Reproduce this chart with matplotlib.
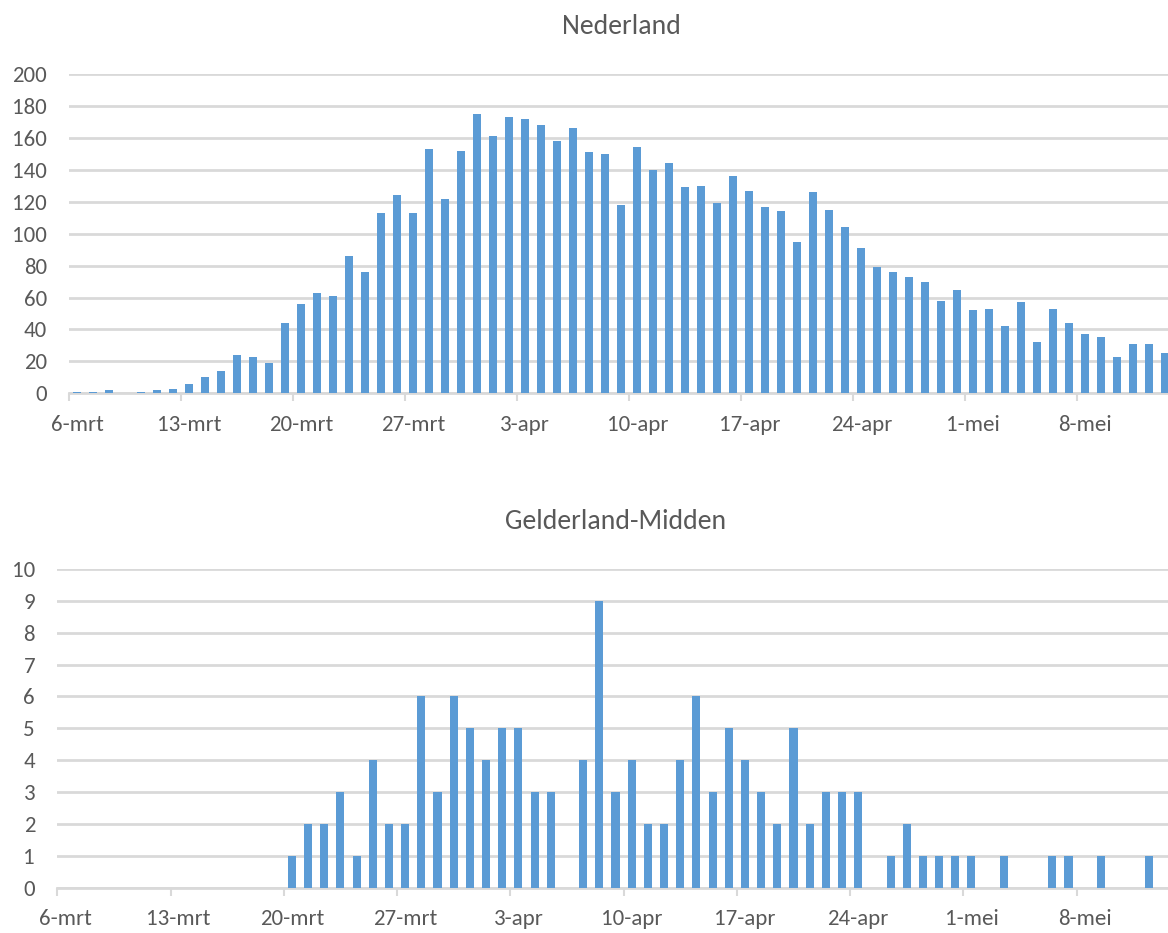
import matplotlib
matplotlib.use('Agg')
import matplotlib.pyplot as plt
import numpy as np
import pandas as pd

# dagelijkse aantallen, 6 maart t/m 13 mei
dates = pd.date_range('2020-03-06', '2020-05-13')

nederland = [1, 1, 2, 0, 1, 2, 3,
             6, 10, 14, 24, 23, 19, 44,
             56, 63, 61, 86, 76, 113, 124,
             113, 153, 122, 152, 175, 161, 173,
             172, 168, 158, 166, 151, 150, 118,
             154, 140, 144, 129, 130, 119, 136,
             127, 117, 114, 95, 126, 115, 104,
             91, 79, 76, 73, 70, 58, 65,
             52, 53, 42, 57, 32, 53, 44,
             37, 35, 23, 31, 31, 25]

gelderland_midden = [0, 0, 0, 0, 0, 0, 0,
                     0, 0, 0, 0, 0, 0, 0,
                     1, 2, 2, 3, 1, 4, 2,
                     2, 6, 3, 6, 5, 4, 5,
                     5, 3, 3, 0, 4, 9, 3,
                     4, 2, 2, 4, 6, 3, 5,
                     4, 3, 2, 5, 2, 3, 3,
                     3, 0, 1, 2, 1, 1, 1,
                     1, 0, 1, 0, 0, 1, 1,
                     0, 1, 0, 0, 1, 0]

tick_labels = ['6-mrt', '13-mrt', '20-mrt', '27-mrt', '3-apr',
               '10-apr', '17-apr', '24-apr', '1-mei', '8-mei']

plt.rcParams['font.family'] = ['Carlito', 'DejaVu Sans']

bar_color = '#5B9BD5'
grid_color = '#D9D9D9'
text_color = '#595959'

fig = plt.figure(figsize=(11.68, 9.33), dpi=100)

# axes reiken iets voorbij de rechterrand, net als in het origineel
ax1 = fig.add_axes([69.3 / 1168, 1 - 393.3 / 933, 1104 / 1168, 319.3 / 933])
ax2 = fig.add_axes([57.3 / 1168, 1 - 887.7 / 933, 1116.4 / 1168, 318.7 / 933])


def style_axis(ax, values, title, ymax, ystep):
    x = np.arange(len(values))
    ax.bar(x, values, width=0.5, color=bar_color, zorder=3)
    ax.set_xlim(-0.5, len(values) - 0.5)
    ax.set_ylim(0, ymax)
    ax.set_yticks(np.arange(0, ymax + ystep, ystep))
    ax.grid(axis='y', color=grid_color, linewidth=2, zorder=0)
    for side in ['top', 'right', 'left']:
        ax.spines[side].set_visible(False)
    ax.spines['bottom'].set_color(grid_color)
    ax.spines['bottom'].set_linewidth(2)
    ax.spines['bottom'].set_zorder(1)

    # labels op elke 7e dag, streepjes tussen de categorieen
    ax.set_xticks(np.arange(0, len(values), 7))
    ax.set_xticklabels(tick_labels)
    ax.set_xticks(np.arange(0, len(values), 7) - 0.5, minor=True)
    ax.tick_params(axis='x', which='major', length=0, pad=15.5,
                   labelsize=16.5, labelcolor=text_color)
    ax.tick_params(axis='x', which='minor', length=6, width=1.5,
                   color=grid_color)
    ax.tick_params(axis='y', length=0, pad=16, labelsize=16.5,
                   labelcolor=text_color)
    ax.set_title(title, fontsize=20, color=text_color, pad=29)


style_axis(ax1, nederland, 'Nederland', 200, 20)
style_axis(ax2, gelderland_midden, 'Gelderland-Midden', 10, 1)

fig.savefig('out.png', dpi=100)
